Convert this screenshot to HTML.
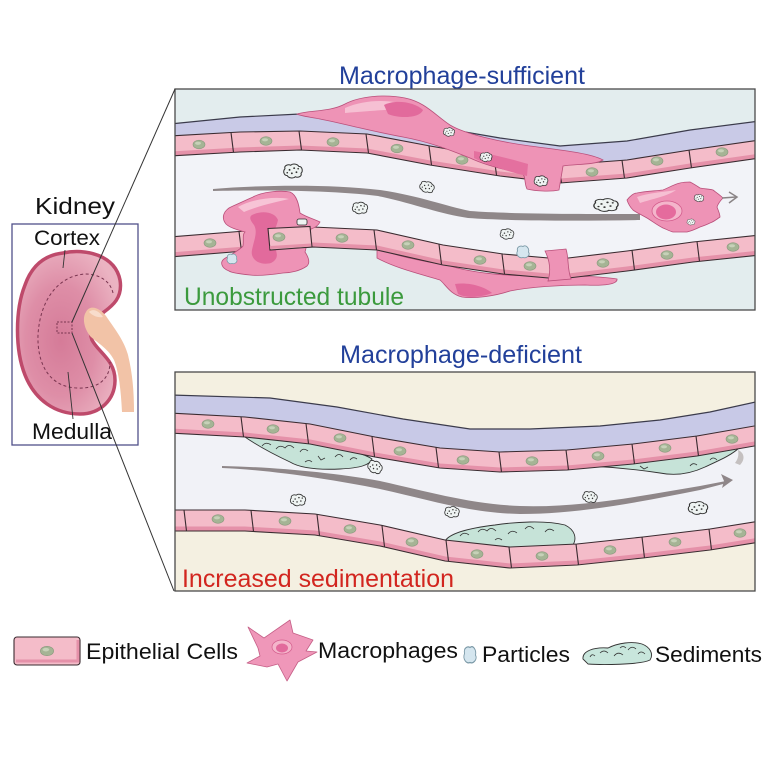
<!DOCTYPE html>
<html><head><meta charset="utf-8">
<style>
html,body{margin:0;padding:0;background:#fff;}
svg{display:block;}
text{font-family:"Liberation Sans",Arial,sans-serif;}
</style></head><body>
<svg width="768" height="768" viewBox="0 0 768 768" xmlns="http://www.w3.org/2000/svg" xmlns:xlink="http://www.w3.org/1999/xlink">
<defs>
<clipPath id="cp1"><rect x="175" y="89" width="580" height="221"/></clipPath>
<clipPath id="cp2"><rect x="175" y="372" width="580" height="219"/></clipPath>
<radialGradient id="kg" cx="0.42" cy="0.55" r="0.62">
<stop offset="0" stop-color="#d57b98"/><stop offset="0.55" stop-color="#de8ea7"/><stop offset="1" stop-color="#ebb3c2"/>
</radialGradient>
<g id="nuc"><ellipse rx="6" ry="4.3" fill="#a5b495" stroke="#8a9a7e" stroke-width="0.6"/><ellipse cx="-1" cy="-1.2" rx="3" ry="1.6" fill="#c6d1b8"/></g>
<g id="part"><path d="M-7,-2 C-8,-5 -4,-6 -2,-5 C0,-7 4,-6 5,-4 C8,-4 9,0 7,2 C8,5 4,6 2,5 C0,7 -4,6 -5,4 C-8,4 -9,0 -7,-2 Z" fill="#eef3f2" stroke="#333" stroke-width="0.9"/><circle cx="-3" cy="-1" r="0.8" fill="#333"/><circle cx="1" cy="-2.5" r="0.8" fill="#333"/><circle cx="3" cy="1" r="0.8" fill="#333"/><circle cx="-1" cy="2" r="0.8" fill="#333"/><circle cx="4.5" cy="-2" r="0.7" fill="#333"/><circle cx="-5" cy="1.5" r="0.7" fill="#333"/></g>
<g id="bpart"><path d="M-5,-1 C-6,-5 -2,-6 0,-5 C3,-7 6,-3 5,0 C7,3 3,6 0,5 C-3,6 -7,3 -5,-1 Z" fill="#d5e6ef" stroke="#7a98a6" stroke-width="0.8"/></g>
</defs>

<!-- Titles -->
<text x="339" y="84" font-size="25" fill="#22409a" textLength="246" lengthAdjust="spacingAndGlyphs">Macrophage-sufficient</text>
<text x="340" y="363" font-size="25" fill="#22409a" textLength="242" lengthAdjust="spacingAndGlyphs">Macrophage-deficient</text>

<!-- ================= TOP PANEL ================= -->
<g clip-path="url(#cp1)">
<rect x="175" y="89" width="580" height="221" fill="#e3edee"/>
<polygon points="170,156 240,152 300,150 367,153 430,165 500,176 560,183 627,178 690,168 760,158 760,235 693,242 627,251 560,259 503,254 443,245 377,230 313,227 245,231 170,237" fill="#f2f3f8"/>
<polygon points="170,124 240,117 300,114 367,116 430,126 500,138 560,146 627,141 690,130 760,121 760,140 690,150 627,160 560,165 500,158 430,146 367,134 300,131 240,132 170,136" fill="#c9cae7"/>
<polyline points="170,124 240,117 300,114 367,116 430,126 500,138 560,146 627,141 690,130 760,121" fill="none" stroke="#3b3b4b" stroke-width="1.2"/>

<!-- macrophage 3 under bottom cells -->
<path d="M377,248 C400,258 430,262 450,266 C470,272 500,276 540,276 C570,276 600,276 617,279 C618,284 605,286 585,285 C560,285 530,287 510,291 C495,296 475,299 462,297 C450,294 446,285 440,280 C420,274 395,268 377,258 Z" fill="#ee93b6" stroke="#b94f7a" stroke-width="0.8"/>
<path d="M455,284 C470,282 485,287 492,293 C480,298 465,298 458,294 Z" fill="#e26a9c"/>

<!-- top cells -->
<polygon points="170,136 240,132 300,131 367,134 430,146 500,158 560,165 627,160 690,150 760,140 760,158 690,168 627,178 560,183 500,176 430,165 367,153 300,150 240,152 170,156" fill="#f4bcc9"/>
<polyline points="170,153.5 240,149.5 300,147.5 367,150.5 430,162.5 500,173.5 560,180.5 627,175.5 690,165.5 760,155.5" fill="none" stroke="#e591a9" stroke-width="4"/>
<polyline points="170,136 240,132 300,131 367,134 430,146 500,158 560,165 627,160 690,150 760,140" fill="none" stroke="#3a2b30" stroke-width="1.1"/>
<polyline points="170,156 240,152 300,150 367,153 430,165 500,176 560,183 627,178 690,168 760,158" fill="none" stroke="#3a2b30" stroke-width="1.1"/>
<path d="M231,132.5 L233.5,152.5 M299,131 L301.5,150 M366,134 L368.5,153 M429,146 L431.5,165 M494,157 L496.5,175 M559,165 L561.5,183 M622,160.3 L624.5,178.3 M689,150 L691.5,168" stroke="#3a2b30" stroke-width="1.1" fill="none"/>
<use xlink:href="#nuc" href="#nuc" x="199" y="144.5"/>
<use xlink:href="#nuc" href="#nuc" x="266" y="141"/>
<use xlink:href="#nuc" href="#nuc" x="333" y="142"/>
<use xlink:href="#nuc" href="#nuc" x="397" y="148.5"/>
<use xlink:href="#nuc" href="#nuc" x="462" y="160"/>
<use xlink:href="#nuc" href="#nuc" x="592" y="172"/>
<use xlink:href="#nuc" href="#nuc" x="657" y="161"/>
<use xlink:href="#nuc" href="#nuc" x="722" y="152"/>

<!-- bottom cells -->
<polygon points="170,237 245,231 313,227 377,230 443,245 503,254 560,259 627,251 693,242 760,235 760,255 693,262 627,271 560,279 503,274 443,265 377,250 313,247 245,251 170,257" fill="#f4bcc9"/>
<polyline points="170,254.5 245,248.5 313,244.5 377,247.5 443,262.5 503,271.5 560,276.5 627,268.5 693,259.5 760,252.5" fill="none" stroke="#e591a9" stroke-width="4"/>
<polyline points="170,237 245,231 313,227 377,230 443,245 503,254 560,259 627,251 693,242 760,235" fill="none" stroke="#3a2b30" stroke-width="1.1"/>
<polyline points="170,257 245,251 313,247 377,250 443,265 503,274 560,279 627,271 693,262 760,255" fill="none" stroke="#3a2b30" stroke-width="1.1"/>
<path d="M239,231.4 L241.5,251.4 M309,227.2 L311.5,247.2 M374,229.9 L376.5,249.9 M439,244.3 L441.5,264.3 M502,254 L504.5,274 M632,250.2 L634.5,270.2 M697,241.5 L699.5,261.5" stroke="#3a2b30" stroke-width="1.1" fill="none"/>
<use xlink:href="#nuc" href="#nuc" x="210" y="243"/>
<use xlink:href="#nuc" href="#nuc" x="342" y="238"/>
<use xlink:href="#nuc" href="#nuc" x="408" y="245"/>
<use xlink:href="#nuc" href="#nuc" x="480" y="260"/>
<use xlink:href="#nuc" href="#nuc" x="530" y="266"/>
<use xlink:href="#nuc" href="#nuc" x="603" y="263"/>
<use xlink:href="#nuc" href="#nuc" x="667" y="255"/>
<use xlink:href="#nuc" href="#nuc" x="733" y="247"/>

<!-- flow arrow -->
<path d="M213,189 C260,185 330,184 380,190 C420,196 445,206 470,211 C510,214 580,214 640,214 L640,220 C580,221 510,221 468,218 C440,214 415,204 378,196 C330,190 260,190 213,191 Z" fill="#8f8789"/>

<!-- particles -->
<use xlink:href="#part" href="#part" transform="translate(293,171) scale(1.15)"/>
<use xlink:href="#part" href="#part" transform="translate(427,187) scale(0.9) rotate(15)"/>
<use xlink:href="#part" href="#part" transform="translate(360,208) scale(0.95)"/>
<use xlink:href="#part" href="#part" transform="translate(606,205) scale(1.5,1.05)"/>
<use xlink:href="#part" href="#part" transform="translate(507,234) scale(0.85)"/>
<use xlink:href="#bpart" href="#bpart" transform="translate(523,252) scale(1.1)"/>

<!-- macrophage 1 (top, elongated) -->
<path d="M297,114 C310,110 330,112 345,104 C360,96 385,94 405,98 C425,102 435,115 450,125 C465,134 500,142 530,146 C560,150 590,153 603,160 C595,165 575,164 563,166 L559,190 C550,192 535,191 527,189 C524,183 526,176 522,173 C505,170 485,165 470,158 C450,150 430,142 403,137 C375,132 345,124 320,119 C310,117 300,116 297,114 Z" fill="#ee93b6" stroke="#b94f7a" stroke-width="0.8"/>
<path d="M345,108 C365,99 392,99 410,106 C398,110 378,110 345,113 Z" fill="#f6c0d3"/>
<path d="M384,105 C395,99 415,102 423,110 C420,118 400,119 388,114 Z" fill="#e26a9c"/>
<path d="M474,151 C495,155 515,160 528,164 L527,176 C510,172 490,166 474,158 Z" fill="#e4709f"/>
<use xlink:href="#part" href="#part" transform="translate(449,132) scale(0.7)"/>
<use xlink:href="#part" href="#part" transform="translate(486,157) scale(0.75)"/>
<use xlink:href="#part" href="#part" transform="translate(541,181) scale(0.85)"/>

<!-- macrophage 2 (left big) -->
<path d="M253,197 C262,192 280,190 290,192 C297,195 299,205 300,213 C306,217 314,219 320,222 C318,226 314,228 311,229 L305,252 C309,258 310,263 307,266 C300,271 290,273 283,273 C270,275 258,276 250,275 C240,274 232,273 229,271 C221,268 220,262 224,259 C230,255 240,250 243,246 C244,240 242,235 245,232 C238,230 230,228 226,224 C221,218 223,210 233,206 C240,203 246,200 253,197 Z" fill="#ee93b6" stroke="#b94f7a" stroke-width="0.8"/>
<path d="M238,207 C252,199 275,196 289,199 C276,202 258,206 244,212 Z" fill="#f7c4d6"/>
<path d="M252,215 C262,210 275,212 278,220 C276,230 270,235 272,242 C276,250 281,258 271,263 C259,266 250,259 252,250 C254,240 258,232 254,225 C250,220 249,217 252,215 Z" fill="#e26a9c"/>
<use xlink:href="#bpart" href="#bpart" transform="translate(232,259) scale(0.9)"/>
<rect x="297" y="219" width="10" height="6" rx="2" fill="#eef3f2" stroke="#333" stroke-width="0.8"/>
<!-- front cell -->
<polygon points="268,228.5 310,226.5 312,247 270,250" fill="#f4bcc9" stroke="#3a2b30" stroke-width="1.1"/>
<line x1="270" y1="247.5" x2="311" y2="245" stroke="#e591a9" stroke-width="3"/>
<use xlink:href="#nuc" href="#nuc" x="279" y="237"/>

<!-- plug between bottom cells -->
<path d="M545,251 L566,249 C569,258 567,268 571,279 L548,281 C551,271 550,261 545,251 Z" fill="#ee93b6" stroke="#b94f7a" stroke-width="0.8"/>

<!-- macrophage 4 (free) -->
<path d="M627,200 C631,195 634,193 637,193 C646,191 655,191 663,190 C670,187 675,184 680,183 C684,182 688,182 690,182 C694,184 697,186 700,188 C705,189 709,189 713,190 C717,193 720,195 723,198 C720,201 718,204 717,207 C718,210 720,214 720,217 C716,220 713,222 710,223 C706,225 703,226 700,227 C696,229 691,231 687,232 C682,232 677,232 673,232 C669,231 666,229 663,228 C657,225 652,221 647,218 C642,215 637,213 633,210 C630,207 628,203 627,200 Z" fill="#ee93b6" stroke="#b94f7a" stroke-width="0.8"/>
<path d="M637,197 C648,193 664,192 676,190 C668,196 652,199 640,203 Z" fill="#f6c0d3"/>
<ellipse cx="667" cy="211" rx="15" ry="10" fill="#f4b5cb" stroke="#d35c8c" stroke-width="0.8"/>
<ellipse cx="666" cy="212" rx="10" ry="7.5" fill="#e56b9d"/>
<use xlink:href="#part" href="#part" transform="translate(699,198) scale(0.6)"/>
<use xlink:href="#part" href="#part" transform="translate(691,222) scale(0.5)"/>
<line x1="722" y1="198" x2="736" y2="197" stroke="#8a8486" stroke-width="1.5"/>
<path d="M729,192 L737,197 L729,203" fill="none" stroke="#8a8486" stroke-width="1.5"/>
</g>
<text x="184" y="305" font-size="25" fill="#3b9a3d" textLength="220" lengthAdjust="spacingAndGlyphs">Unobstructed tubule</text>
<rect x="175" y="89" width="580" height="221" fill="none" stroke="#4a4a4a" stroke-width="1.3"/>

<!-- ================= BOTTOM PANEL ================= -->
<g clip-path="url(#cp2)">
<rect x="175" y="372" width="580" height="219" fill="#f4f0e1"/>
<polygon points="170,433 245,437 310,444 375,457 440,468 500,472 567,470 633,464 697,456 760,445 760,521 710,529 643,537 577,544 510,547 445,540 380,525 315,514 245,510 170,510" fill="#f1f2f7"/>
<polygon points="170,395 270,398 337,407 403,419 470,429 530,429 600,426 660,420 710,412 760,401 760,425 697,436 633,444 567,450 500,452 440,448 375,437 310,424 245,417 170,413" fill="#c8c9e7"/>
<polyline points="170,395 270,398 337,407 403,419 470,429 530,429 600,426 660,420 710,412 760,401" fill="none" stroke="#3b3b4b" stroke-width="1.2"/>

<!-- sediments -->
<path d="M245,437 C262,434 300,440 330,446 C350,450 365,454 372,459 C370,465 360,468 340,469 C318,470 300,468 290,462 C275,455 258,446 245,437 Z" fill="#c6e3d8" stroke="#333" stroke-width="0.9"/>
<path d="M262,446 q4,-5 9,-1 M276,449 q4,-5 9,-1 q4,-5 9,0 M300,452 q3,-5 8,-1 M318,456 l3,4 l4,-2 M335,457 q4,-5 8,0 M350,460 q3,-4 7,-1 M305,462 q4,-3 7,0" fill="none" stroke="#333" stroke-width="0.8"/>
<use xlink:href="#part" href="#part" transform="translate(375,467) scale(0.9,1.0) rotate(20)"/>
<path d="M590,466 C610,467 640,470 660,473 C675,476 690,474 705,467 C720,460 732,455 740,447 L700,452 C660,456 620,458 590,466 Z" fill="#c6e3d8" stroke="#333" stroke-width="0.9"/>
<path d="M738,450 C745,453 745,460 740,465 L735,463 C738,459 739,455 738,450 Z" fill="#c4c0c0"/>
<path d="M640,466 l4,3 l4,-2 M690,466 q3,-4 7,-1 M710,460 q3,-4 7,0" fill="none" stroke="#333" stroke-width="0.8"/>
<path d="M445,541 C450,533 470,528 495,525 C515,522 545,520 565,525 C575,530 577,538 573,545 L510,548 C480,547 460,546 445,541 Z" fill="#c6e3d8" stroke="#333" stroke-width="0.9"/>
<path d="M460,536 q4,-5 9,-1 M478,532 q4,-5 9,-1 q4,-5 9,0 M508,534 q4,-5 9,-1 M525,529 q4,-5 9,0 M545,532 q4,-5 9,-1 M495,540 q3,-3 7,0" fill="none" stroke="#333" stroke-width="0.8"/>

<!-- top cells -->
<polygon points="170,413 245,417 310,424 375,437 440,448 500,452 567,450 633,444 697,436 760,425 760,445 697,456 633,464 567,470 500,472 440,468 375,457 310,444 245,437 170,433" fill="#f4bcc9"/>
<polyline points="170,430.5 245,434.5 310,441.5 375,454.5 440,465.5 500,469.5 567,467.5 633,461.5 697,453.5 760,442.5" fill="none" stroke="#e591a9" stroke-width="4"/>
<polyline points="170,413 245,417 310,424 375,437 440,448 500,452 567,450 633,444 697,436 760,425" fill="none" stroke="#3a2b30" stroke-width="1.1"/>
<polyline points="170,433 245,437 310,444 375,457 440,468 500,472 567,470 633,464 697,456 760,445" fill="none" stroke="#3a2b30" stroke-width="1.1"/>
<path d="M241,416.8 L243.5,436.8 M306,423.7 L308.5,443.7 M372,436.6 L374.5,456.6 M436,447.5 L438.5,467.5 M499,452 L501.5,472 M566,450 L568.5,470 M632,444 L634.5,464 M696,436 L698.5,456" stroke="#3a2b30" stroke-width="1.1" fill="none"/>
<use xlink:href="#nuc" href="#nuc" x="208" y="424"/>
<use xlink:href="#nuc" href="#nuc" x="273" y="429"/>
<use xlink:href="#nuc" href="#nuc" x="340" y="438"/>
<use xlink:href="#nuc" href="#nuc" x="400" y="451"/>
<use xlink:href="#nuc" href="#nuc" x="463" y="460"/>
<use xlink:href="#nuc" href="#nuc" x="532" y="461"/>
<use xlink:href="#nuc" href="#nuc" x="598" y="456"/>
<use xlink:href="#nuc" href="#nuc" x="665" y="448"/>
<use xlink:href="#nuc" href="#nuc" x="732" y="439"/>

<!-- bottom cells -->
<polygon points="170,510 245,510 315,514 380,525 445,540 510,547 577,544 643,537 710,529 760,521 760,542 710,550 643,558 577,565 510,568 445,561 380,546 315,535 245,531 170,531" fill="#f4bcc9"/>
<polyline points="170,528.5 245,528.5 315,532.5 380,543.5 445,558.5 510,565.5 577,562.5 643,555.5 710,547.5 760,539.5" fill="none" stroke="#e591a9" stroke-width="4"/>
<polyline points="170,510 245,510 315,514 380,525 445,540 510,547 577,544 643,537 710,529 760,521" fill="none" stroke="#3a2b30" stroke-width="1.1"/>
<polyline points="170,531 245,531 315,535 380,546 445,561 510,568 577,565 643,558 710,550 760,542" fill="none" stroke="#3a2b30" stroke-width="1.1"/>
<path d="M184,510 L186.5,531 M251,510.4 L253.5,531.4 M317,514.5 L319.5,535.5 M382,525.7 L384.5,546.7 M446,540.2 L448.5,561.2 M509,547 L511.5,568 M576,544 L578.5,565 M642,537 L644.5,558 M709,529 L711.5,550" stroke="#3a2b30" stroke-width="1.1" fill="none"/>
<use xlink:href="#nuc" href="#nuc" x="218" y="519"/>
<use xlink:href="#nuc" href="#nuc" x="285" y="521"/>
<use xlink:href="#nuc" href="#nuc" x="350" y="529"/>
<use xlink:href="#nuc" href="#nuc" x="412" y="542"/>
<use xlink:href="#nuc" href="#nuc" x="477" y="554"/>
<use xlink:href="#nuc" href="#nuc" x="542" y="556"/>
<use xlink:href="#nuc" href="#nuc" x="610" y="550"/>
<use xlink:href="#nuc" href="#nuc" x="675" y="542"/>
<use xlink:href="#nuc" href="#nuc" x="740" y="533"/>

<!-- flow arrow -->
<path d="M222,466 C270,467 330,472 380,481 C430,492 470,504 520,506 C580,508 640,496 700,486 L726,481 L727,483 L700,490 C640,502 580,514 520,514 C470,513 430,500 380,489 C330,479 270,470 222,468 Z" fill="#8f8789"/>
<path d="M733,480 L721,474 L724,481 L722,488 Z" fill="#8f8789"/>

<!-- particles -->
<use xlink:href="#part" href="#part" transform="translate(298,500) scale(0.95)"/>
<use xlink:href="#part" href="#part" transform="translate(452,512) scale(0.9)"/>
<use xlink:href="#part" href="#part" transform="translate(590,497) scale(0.9) rotate(10)"/>
<use xlink:href="#part" href="#part" transform="translate(698,508) scale(1.2,1.05)"/>
</g>
<text x="182" y="587" font-size="25" fill="#d2261f" textLength="272" lengthAdjust="spacingAndGlyphs">Increased sedimentation</text>
<rect x="175" y="372" width="580" height="219" fill="none" stroke="#4a4a4a" stroke-width="1.3"/>

<!-- ================= KIDNEY ================= -->
<text x="35" y="214" font-size="23" fill="#111" textLength="80" lengthAdjust="spacingAndGlyphs">Kidney</text>
<rect x="12" y="224" width="126" height="221" fill="#fff" stroke="#50508a" stroke-width="1.3"/>
<text x="34" y="245" font-size="21" fill="#111" textLength="66" lengthAdjust="spacingAndGlyphs">Cortex</text>
<path d="M63,253 C85,248 115,255 120,280 C123,298 112,306 104,312 C92,320 88,330 92,340 C98,352 115,360 115,380 C115,400 100,414 80,414 C55,414 35,400 25,375 C15,350 15,310 25,285 C32,265 45,255 63,253 Z" fill="url(#kg)" stroke="#be4a6b" stroke-width="3.5"/>
<path d="M113,293 C110,280 98,274 85,274 C58,276 40,300 38,335 C37,365 50,387 77,388 C97,389 110,380 110,362" fill="none" stroke="#7a3550" stroke-width="1" stroke-dasharray="3,2.5"/>
<rect x="57" y="322" width="15" height="11" fill="none" stroke="#7a3550" stroke-width="1" stroke-dasharray="2,1.5"/>
<path d="M86,312 C90,304 100,308 106,316 C114,328 124,340 128,355 C133,375 134,395 134,412 L122,412 C121,392 119,372 114,360 C108,348 96,342 90,336 C84,328 82,318 86,312 Z" fill="#f2c3a7"/>
<path d="M89,312 C93,308 99,311 103,317 C98,318 93,316 89,312 Z" fill="#f8dccc"/>
<line x1="65" y1="250" x2="63" y2="268" stroke="#333" stroke-width="0.9"/>
<line x1="68" y1="372" x2="73" y2="419" stroke="#333" stroke-width="0.9"/>
<text x="32" y="439" font-size="22" fill="#111" textLength="80" lengthAdjust="spacingAndGlyphs">Medulla</text>
<line x1="72" y1="322" x2="175" y2="89" stroke="#333" stroke-width="1"/>
<line x1="72" y1="333" x2="174" y2="591" stroke="#333" stroke-width="1"/>

<!-- ================= LEGEND ================= -->
<rect x="14" y="637" width="66" height="28" rx="3" fill="#f4bcc9" stroke="#3a2b30" stroke-width="1.1"/>
<path d="M16,661 L78,661 L78,640" fill="none" stroke="#e591a9" stroke-width="3"/>
<use xlink:href="#nuc" href="#nuc" transform="translate(47,651) scale(1.1)"/>
<text x="86" y="659" font-size="22" fill="#111" textLength="152" lengthAdjust="spacingAndGlyphs">Epithelial Cells</text>

<path d="M248,627 L264,638 L290,620 L293,633 L313,640 L306,651 L317,652 L298,662 L287,681 L278,664 L267,667 L247,663 L260,656 L258,648 Z" fill="#ef97b9" stroke="#c55e86" stroke-width="0.8" stroke-linejoin="round"/>
<ellipse cx="282" cy="647" rx="10" ry="7" fill="#f4b5cb" stroke="#d35c8c" stroke-width="0.7"/>
<ellipse cx="282" cy="648" rx="6" ry="4.5" fill="#e26a9c"/>
<text x="318" y="658" font-size="22" fill="#111" textLength="140" lengthAdjust="spacingAndGlyphs">Macrophages</text>

<use xlink:href="#bpart" href="#bpart" transform="translate(470,655) scale(1.1,1.5)"/>
<text x="482" y="662" font-size="22" fill="#111" textLength="88" lengthAdjust="spacingAndGlyphs">Particles</text>

<path d="M583,659 C582,651 594,647 608,648 C618,643 632,641 642,644 C650,647 654,654 650,660 C640,665 600,665 588,664 Z" fill="#c8e6dc" stroke="#333" stroke-width="0.9"/>
<path d="M590,657 q2,-4 5,-1 M600,653 q4,-4 8,0 M614,656 q4,-5 9,-1 M628,650 q4,-5 8,-1 M638,654 q3,-4 7,0 M620,648 q3,-3 6,0" fill="none" stroke="#333" stroke-width="0.8"/>
<text x="655" y="662" font-size="22" fill="#111" textLength="107" lengthAdjust="spacingAndGlyphs">Sediments</text>
</svg>
</body></html>
